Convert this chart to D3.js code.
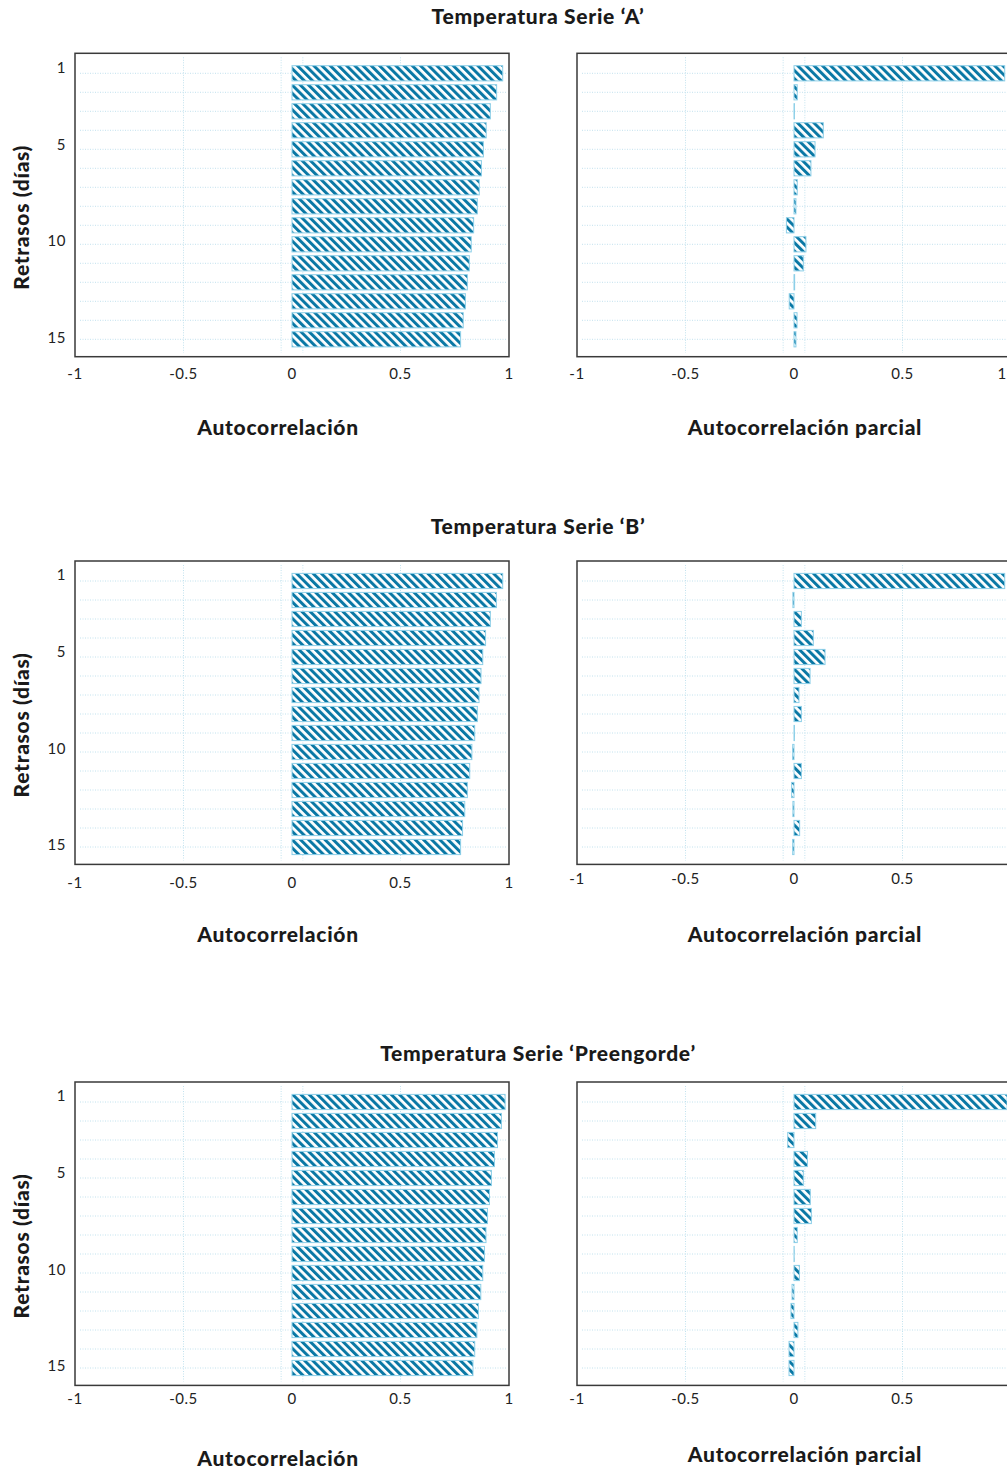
<!DOCTYPE html>
<html>
<head>
<meta charset="utf-8">
<script src="https://d3js.org/d3.v7.min.js"></script>
<style>
body { margin: 0; background: #fff; }
svg { display: block; }
.tick-label { font-family: Lato, "Open Sans", sans-serif; font-size: 15px; letter-spacing: 0.5px; fill: #222; }
.title { font-family: Lato, sans-serif; font-weight: 900; font-size: 21px; letter-spacing: 0.7px; fill: #1a1a1a; }
.grid { stroke: #c2e2ee; stroke-width: 1; stroke-dasharray: 1,1.5; fill: none; }
.frame { fill: none; stroke: #3a3a3a; stroke-width: 1.5; }
.bar { stroke: #8ccfe8; stroke-width: 1; }
</style>
</head>
<body>
<svg width="1007" height="1470"></svg>
<script>

var lags = [1, 2, 3, 4, 5, 6, 7, 8, 9, 10, 11, 12, 13, 14, 15];
var lagLabels = [1, 5, 10, 15];
var xTicks = [-1, -0.5, 0, 0.5, 1];
var xTickText = ["-1", "-0.5", "0", "0.5", "1"];
var bandLines = [-0.5, -0.05, 0.05, 0.5];

var titles = ["Temperatura Serie \u2018A\u2019", "Temperatura Serie \u2018B\u2019", "Temperatura Serie \u2018Preengorde\u2019"];

var acfA  = [0.971, 0.943, 0.914, 0.895, 0.882, 0.873, 0.863, 0.854, 0.837, 0.826, 0.817, 0.808, 0.799, 0.789, 0.777];
var pacfA = [0.971, 0.015, 0.002, 0.135, 0.097, 0.078, 0.015, 0.009, -0.035, 0.055, 0.043, 0.003, -0.022, 0.014, 0.009];

var acfB  = [0.971, 0.942, 0.914, 0.892, 0.879, 0.871, 0.862, 0.854, 0.842, 0.829, 0.819, 0.808, 0.796, 0.786, 0.777];
var pacfB = [0.971, -0.005, 0.034, 0.089, 0.143, 0.074, 0.023, 0.034, 0.002, -0.006, 0.034, -0.011, -0.005, 0.026, -0.006];

var acfP  = [0.982, 0.965, 0.947, 0.933, 0.919, 0.910, 0.901, 0.894, 0.887, 0.879, 0.870, 0.859, 0.852, 0.842, 0.834];
var pacfP = [0.982, 0.100, -0.029, 0.062, 0.043, 0.075, 0.080, 0.015, 0.001, 0.025, -0.009, -0.014, 0.018, -0.023, -0.023];

var svg = d3.select("svg");

// striped fill
var pat = svg.append("defs").append("pattern")
    .attr("id", "stripes")
    .attr("patternUnits", "userSpaceOnUse")
    .attr("width", 5.8)
    .attr("height", 5.8)
    .attr("patternTransform", "rotate(-45)");
pat.append("rect").attr("width", 5.8).attr("height", 5.8).attr("fill", "#fff");
pat.append("rect").attr("width", 3).attr("height", 5.8).attr("fill", "#0a78a5");

var panels = [
  {title: titles[0], titleY: 17, top: 53.3, tickY: [374, 374], labelY: [428, 428], acf: acfA, pacf: pacfA, endTick: true},
  {title: titles[1], titleY: 527, top: 561, tickY: [883, 879], labelY: [935, 935], acf: acfB, pacf: pacfB, endTick: false},
  {title: titles[2], titleY: 1054, top: 1082, tickY: [1399, 1399], labelY: [1459, 1455], acf: acfP, pacf: pacfP, endTick: false}
];

var plotH = 303.4;
var pageW = 1007;

function drawChart(g, left, right, top, values, tickY, labelY, label, labelShift, showLagLabels, endTick) {
  var x = d3.scaleLinear().domain([-1, 1]).range([left, right]);
  var y = d3.scaleBand().domain(lags)
      .range([top + 10.5, top + 295.5])
      .paddingInner(0.2).paddingOuter(0.1);

  // grid
  g.selectAll(".hgrid").data(lags).enter().append("line")
      .attr("class", "grid")
      .attr("x1", left + 5).attr("x2", right - 3)
      .attr("y1", function(d) { return y(d) + y.bandwidth() / 2; })
      .attr("y2", function(d) { return y(d) + y.bandwidth() / 2; });
  g.selectAll(".vgrid").data(bandLines).enter().append("line")
      .attr("class", "grid")
      .attr("x1", function(d) { return x(d); }).attr("x2", function(d) { return x(d); })
      .attr("y1", top + 4).attr("y2", top + plotH - 4);

  // bars
  g.selectAll(".bar").data(values).enter().append("rect")
      .attr("class", "bar")
      .attr("fill", "url(#stripes)")
      .attr("x", function(d) { return x(Math.min(0, d)); })
      .attr("width", function(d) { return Math.abs(x(d) - x(0)); })
      .attr("y", function(d, i) { return y(lags[i]); })
      .attr("height", y.bandwidth());

  g.append("rect").attr("class", "frame")
      .attr("x", left).attr("y", top)
      .attr("width", right - left).attr("height", plotH);

  // x tick labels (the right panel runs past the page edge)
  var ticks = xTicks.filter(function(d) { return x(d) < pageW - 4 || endTick; });
  g.selectAll(".xt").data(ticks).enter().append("text")
      .attr("class", "tick-label")
      .attr("x", function(d) { return Math.min(x(d), pageW - 5); })
      .attr("y", tickY)
      .attr("dy", "0.35em")
      .attr("text-anchor", "middle")
      .text(function(d) { return xTickText[xTicks.indexOf(d)]; });

  if (showLagLabels) {
    g.selectAll(".yt").data(lagLabels).enter().append("text")
        .attr("class", "tick-label")
        .attr("x", left - 9)
        .attr("y", function(d) { return y(d) + y.bandwidth() / 2 - 6 + (d - 1) * 0.3; })
        .attr("dy", "0.35em")
        .attr("text-anchor", "end")
        .text(function(d) { return d; });
  }

  g.append("text")
      .attr("class", "title")
      .attr("x", (left + right) / 2 + labelShift)
      .attr("y", labelY)
      .attr("dy", "0.35em")
      .attr("text-anchor", "middle")
      .text(label);
}

panels.forEach(function(p) {
  var g = svg.append("g");
  g.append("text")
      .attr("class", "title")
      .attr("x", 538)
      .attr("y", p.titleY)
      .attr("dy", "0.35em")
      .attr("text-anchor", "middle")
      .text(p.title);

  g.append("text")
      .attr("class", "title")
      .attr("transform", "translate(22," + (p.top + 164) + ") rotate(-90)")
      .attr("dy", "0.35em")
      .attr("text-anchor", "middle")
      .text("Retrasos (d\u00edas)");

  drawChart(g.append("g"), 75, 509, p.top, p.acf, p.tickY[0], p.labelY[0], "Autocorrelaci\u00f3n", -14, true, true);
  drawChart(g.append("g"), 577, 1011, p.top, p.pacf, p.tickY[1], p.labelY[1], "Autocorrelaci\u00f3n parcial", 11, false, p.endTick);
});

</script>
</body>
</html>
